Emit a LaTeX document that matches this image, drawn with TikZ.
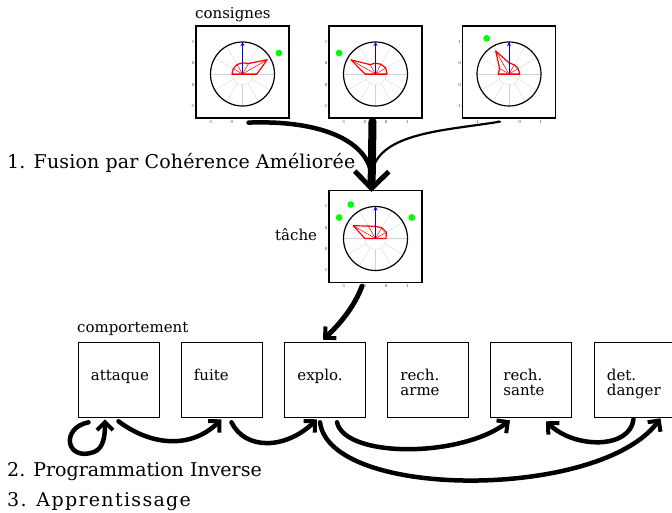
\documentclass[tikz,border=0pt]{standalone}
\usepackage{fontspec}
\setmainfont{DejaVu Serif}
\usetikzlibrary{arrows.meta,calc}
\tikzset{
  gridline/.style={gray!35, line width=0.3pt},
  plotbox/.style={draw, line width=1.2pt, minimum width=93pt, minimum height=92pt, inner sep=0pt},
  behbox/.style={draw, line width=0.6pt, minimum width=81pt, minimum height=75pt, inner sep=0pt},
  tick/.style={font=\fontsize{4}{4.5}\selectfont, text=black!80, inner sep=0pt},
  smalllab/.style={font=\fontsize{15}{16}\selectfont, inner sep=0pt, anchor=base west},
  biglab/.style={font=\fontsize{19}{22}\selectfont, inner sep=0pt, anchor=base west},
  boxtext/.style={font=\fontsize{15}{15}\selectfont, inner sep=0pt, anchor=base west, align=left},
  brush/.style={line width=4.5pt, line cap=round},
  barb/.style={-{Straight Barb[length=8pt,width=16pt,line width=4pt]}},
  bigbarb/.style={-{Straight Barb[length=17pt,width=34pt,line width=5pt]}}
}
\newcommand\polarplot[4]{%
  \begin{scope}[shift={(#1,#2)},yscale=-1]
    \foreach \a in {0,30,...,330} \draw[gridline] (\a:10.7) -- (\a:32);
    \draw[gridline] (0,0) circle (10.7);
    \draw[line width=1.2pt] (0,0) circle (32);
    \foreach \r [count=\i from 0] in {#3} \coordinate (pp\i) at (\i*30:32*\r);
    \foreach \i in {0,...,6} \draw[red, line width=0.5pt] (0,0) -- (pp\i);
    \draw[red, line width=1.2pt, line join=round] (pp0)--(pp1)--(pp2)--(pp3)--(pp4)--(pp5)--(pp6)--cycle;
    \draw[blue, line width=1pt, -{Stealth[length=4pt,width=4pt]}] (0,0) -- (0,32);
    \foreach \g in {#4} \fill[green] (\g:42) circle (3.4);
  \end{scope}
  \foreach \v/\d in {1/-32,0/-10.7,0/10.7,-1/32} {
    \node[tick, anchor=east] at ($(#1,#2)+(-48,\d)$) {\v};
  }
  \foreach \v/\d in {-1/-32,0/-10.7,0/10.7,1/32} {
    \node[tick] at ($(#1,#2)+(\d,48)$) {\v};
  }
}
\begin{document}
\begin{tikzpicture}[x=1pt,y=-1pt]
\useasboundingbox (0,0) rectangle (672,512);

% plot frames
\node[plotbox] (c1) at (242.5,72) {};
\node[plotbox] (c2) at (375.5,72) {};
\node[plotbox] (c3) at (509,72) {};
\node[plotbox] (t) at (375.5,236.5) {};

\polarplot{242.5}{74}{.45,.89,.38,.35,.34,.33,.33}{30}
\polarplot{375.5}{74}{.36,.37,.35,.34,.34,.88,.33}{150}
\polarplot{509}{74}{.34,.33,.33,.35,.83,.34,.34}{122}
\polarplot{375.5}{238.5}{.33,.39,.39,.38,.45,.8,.33}{30,126,150}

% labels
\node[smalllab] (lcons) at (195,18) {consignes};
\node[biglab] (lfus) at (7,168) {\addfontfeatures{LetterSpace=0.8}1. Fusion par Cohérence Améliorée};
\node[smalllab] (ltache) at (275,240) {tâche};
\node[smalllab] (lcomp) at (77,332) {comportement};
\node[biglab] (lprog) at (7,476) {2. Programmation Inverse};
\node[biglab] (lapp) at (7,506) {\addfontfeatures{LetterSpace=7}3. Apprentissage};

% behaviour boxes
\node[behbox] (att) at (118.5,379.5) {};
\node[behbox] (fui) at (221.5,379.5) {};
\node[behbox] (exp) at (325,379.5) {};
\node[behbox] (arm) at (428,379.5) {};
\node[behbox] (san) at (531,379.5) {};
\node[behbox] (dan) at (634.5,379.5) {};
\node[boxtext] (tatt) at ($(att.north west)+(13,39)$) {attaque};
\node[boxtext] (tfui) at ($(fui.north west)+(13,39)$) {fuite};
\node[boxtext] (texp) at ($(exp.north west)+(13,39)$) {explo.};
\node[boxtext] (tarm) at ($(arm.north west)+(13,54)$) {rech.\\arme};
\node[boxtext] (tsan) at ($(san.north west)+(13,54)$) {rech.\\sante};
\node[boxtext] (tdan) at ($(dan.north west)+(13,54)$) {det.\\danger};

% fusion arrows
\coordinate (tin) at ($(t.north)+(-4,2)$);
\draw[brush] ($(c1.south)+(6,4)$) .. controls (320,120) and (366,140) .. ($(tin)+(0,-18)$);
\draw[brush, line width=2.2pt] ($(c3.south)+(-9,3)$) .. controls (450,130) and (385,132) .. ($(tin)+(2,-25)$);
\draw[brush, line width=8pt, bigbarb] ($(c2.south)+(-3,3)$) -- (tin);

% task to behaviour
\draw[brush, line width=5pt, barb] ($(t.south)+(-13.5,3)$) .. controls (355,305) and (342,322) .. ($(exp.north)+(-2,-2)$);

% behaviour arrows
\draw[brush, barb] ($(att.south)+(-30,5)$) .. controls (60,428) and (66,462) .. (94,452) .. controls (104,448) and (105,435) .. ($(att.south)+(-13.5,2)$);
\draw[brush, barb] ($(att.south)+(0,4)$) .. controls (150,445) and (190,450) .. ($(fui.south)+(0,2)$);
\draw[brush, barb] ($(fui.south)+(10,5)$) .. controls (245,450) and (285,450) .. ($(exp.south)+(-8,2)$);
\draw[brush, barb] ($(exp.south)+(12,5)$) .. controls (345,458) and (460,458) .. ($(san.south)+(-21,3)$);
\draw[brush, barb] ($(dan.south)+(-1,2)$) .. controls (630,449) and (575,449) .. ($(san.south)+(15,4)$);
\draw[brush, barb] ($(exp.south)+(-5,5)$) .. controls (330,500) and (600,500) .. ($(dan.south)+(26,1)$);
\end{tikzpicture}
\end{document}
